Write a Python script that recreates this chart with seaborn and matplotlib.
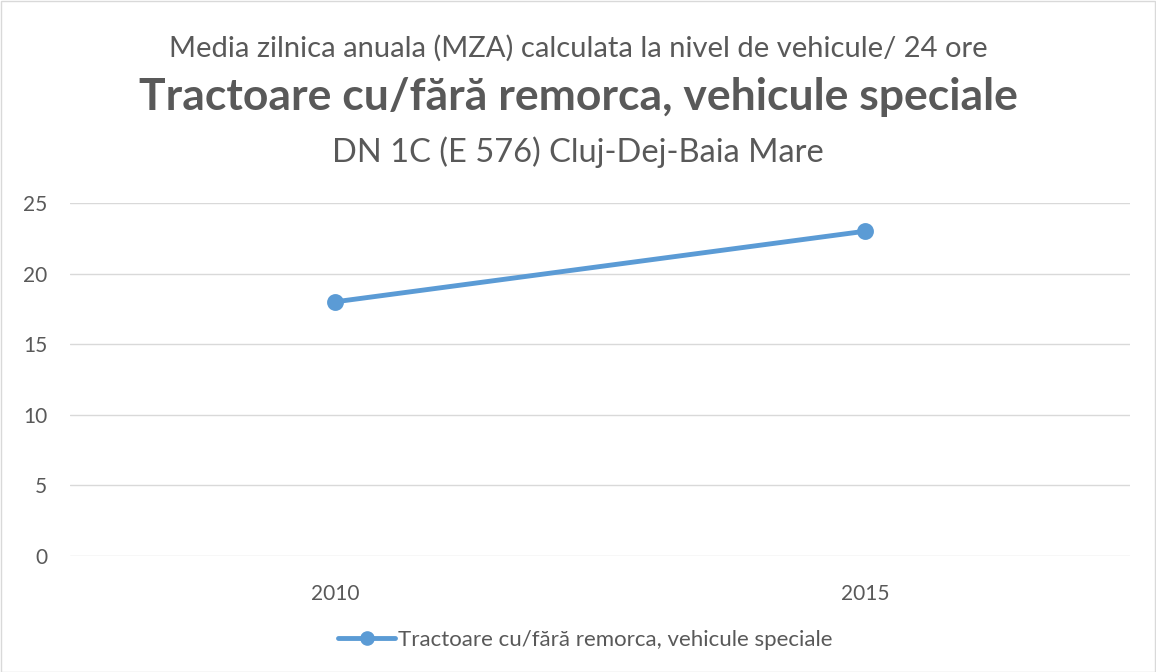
import matplotlib
matplotlib.use("Agg")
import matplotlib.pyplot as plt
import seaborn as sns
import pandas as pd
from matplotlib.lines import Line2D
from matplotlib.patches import Rectangle

years = ["2010", "2015"]
values = [18, 23]
series_name = "Tractoare cu/fără remorca, vehicule speciale"
title1 = "Media zilnica anuala (MZA) calculata la nivel de vehicule/ 24 ore"
title2 = "Tractoare cu/fără remorca, vehicule speciale"
title3 = "DN 1C (E 576) Cluj-Dej-Baia Mare"
yticks = [0, 5, 10, 15, 20, 25]

sns.set_style("white")
plt.rcParams['font.family'] = ['Lato', 'DejaVu Sans']

LINE = "#5B9BD5"
TXT = "#595959"

df = pd.DataFrame({"year": years, "value": values})

fig = plt.figure(figsize=(11.56, 6.72), dpi=100)
ax = fig.add_axes([70/1156, 1-556/672, (1130-70)/1156, (556-203)/672])

sns.pointplot(data=df, x="year", y="value", ax=ax, color=LINE,
              markers="o", markersize=9.5, linewidth=3.5)

ax.set_xlim(-0.5, 1.5)
ax.set_ylim(0, 25)
ax.set_yticks(yticks)
ax.grid(axis="y", color="#D9D9D9", linewidth=1)
ax.set_axisbelow(True)
for s in ax.spines.values():
    s.set_visible(False)
ax.set_xlabel("")
ax.set_ylabel("")
ax.tick_params(axis="both", length=0, labelsize=15, colors=TXT)
ax.tick_params(axis="x", pad=20)
ax.tick_params(axis="y", pad=16.5)

fig.text(0.5, 1-48/672, title1, ha="center", va="center", fontsize=21, color=TXT)
fig.text(0.5, 1-97/672, title2, ha="center", va="center", fontsize=32, color=TXT, fontweight="bold")
fig.text(0.5, 1-152/672, title3, ha="center", va="center", fontsize=23.5, color=TXT)

handle = Line2D([0], [0], color=LINE, linewidth=3.5, marker="o", markersize=9.5)
leg = fig.legend([handle], [series_name], loc="center", bbox_to_anchor=(0.506, 1-640/672),
                 frameon=False, fontsize=16, handlelength=2.6, handletextpad=0.1)
for t in leg.get_texts():
    t.set_color(TXT)

fig.patches.append(Rectangle((0.5/1156, 0.5/672), 1-1.5/1156, 1-1.5/672, transform=fig.transFigure,
                             fill=False, edgecolor="#D9D9D9", linewidth=1))

fig.savefig("out.png", dpi=100, facecolor="white")
